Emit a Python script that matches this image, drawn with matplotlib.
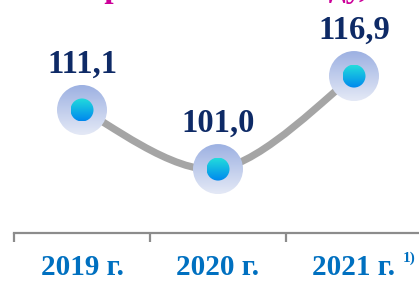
import numpy as np
import matplotlib
matplotlib.use('Agg')
import matplotlib.pyplot as plt
from matplotlib.path import Path
from matplotlib.patches import PathPatch, Ellipse

# Dados
anos = ['2019 г.', '2020 г.', '2021 г.']
valores = [111.1, 101.0, 116.9]
rotulos = ['111,1', '101,0', '116,9']
nota = '1)'
titulo = 'Темпы роста к 2018 году, %'

W, H, DPI = 419, 284, 100
fig = plt.figure(figsize=(W / DPI, H / DPI), dpi=DPI)

# eixo: base em y=233px, categorias a cada 136px
ax = fig.add_axes([14 / W, 51 / H, 408 / W, 233 / H])
ax.set_xlim(-0.5, 2.5)
ax.set_ylim(90.07, 129.9)
ax.patch.set_alpha(0)

px_x = 1 / 136.0      # dados por pixel em x
px_y = 1 / 5.85       # dados por pixel em y

x = np.arange(len(valores), dtype=float)
y = np.array(valores)

# curva suave (Catmull-Rom -> Bezier) feita a partir dos pontos
pts = np.column_stack([x / px_x, y / px_y])  # em pixels
ext = np.vstack([pts[0], pts, pts[-1]])
verts = [pts[0]]
codes = [Path.MOVETO]
for i in range(len(pts) - 1):
    p0, p1, p2, p3 = ext[i], ext[i + 1], ext[i + 2], ext[i + 3]
    verts += [p1 + (p2 - p0) / 6, p2 - (p3 - p1) / 6, p2]
    codes += [Path.CURVE4] * 3
verts = np.array(verts) * [px_x, px_y]
ax.add_patch(PathPatch(Path(verts, codes), fill=False, edgecolor='#A5A5A5',
                       lw=5.2, capstyle='round', zorder=2))


def circulo_gradiente(cx, cy, diam, c_top, c_bot, z):
    w, h = diam * px_x, diam * px_y
    t = np.linspace(0, 1, 64)[:, None]
    c1 = np.array(matplotlib.colors.to_rgb(c_top))
    c2 = np.array(matplotlib.colors.to_rgb(c_bot))
    img = (c1 * (1 - t) + c2 * t)[:, None, :]
    im = ax.imshow(img, extent=[cx - w / 2, cx + w / 2, cy - h / 2, cy + h / 2],
                   aspect='auto', origin='upper', zorder=z, interpolation='bilinear')
    clip = Ellipse((cx, cy), w, h, transform=ax.transData, facecolor='none', edgecolor='none')
    ax.add_patch(clip)
    im.set_clip_path(clip)


for xi, yi, lab in zip(x, y, rotulos):
    circulo_gradiente(xi, yi, 50, '#9DB1E2', '#E4E9F6', 3)
    circulo_gradiente(xi, yi, 23, '#22DCDC', '#0088EE', 4)
    ax.annotate(lab, (xi, yi), xytext=(0, 27), textcoords='offset points',
                ha='center', va='baseline', fontsize=23.5, fontweight='bold',
                family='Liberation Serif', color='#0E2A66', zorder=5)

ax.set_xlim(-0.5, 2.5)
ax.set_ylim(90.07, 129.9)

# eixos
for s in ['top', 'right', 'left']:
    ax.spines[s].set_visible(False)
ax.spines['bottom'].set_color('#8C8C8C')
ax.spines['bottom'].set_linewidth(1.6)
ax.set_yticks([])
ax.set_xticks(x)
ax.set_xticklabels(anos, fontsize=21, fontweight='bold', family='Liberation Serif',
                   color='#0070C0')
ax.tick_params(axis='x', which='major', length=0, pad=15)
ax.set_xticks([-0.5, 0.5, 1.5, 2.5], minor=True)
ax.tick_params(axis='x', which='minor', length=6.5, width=1.6, color='#8C8C8C')

ax.annotate(nota, (2, 90.07), xytext=(35, -21), textcoords='offset points',
            ha='left', va='baseline', fontsize=11, fontweight='bold',
            family='Liberation Serif', color='#0070C0', annotation_clip=False)

# título cortado no topo
fig.text(-8 / W, 1.0 + 2.5 / H, titulo, ha='left', va='baseline', fontsize=24,
         fontweight='bold', family='Liberation Serif', color='#CC0099')

fig.savefig('out.png', dpi=DPI)
